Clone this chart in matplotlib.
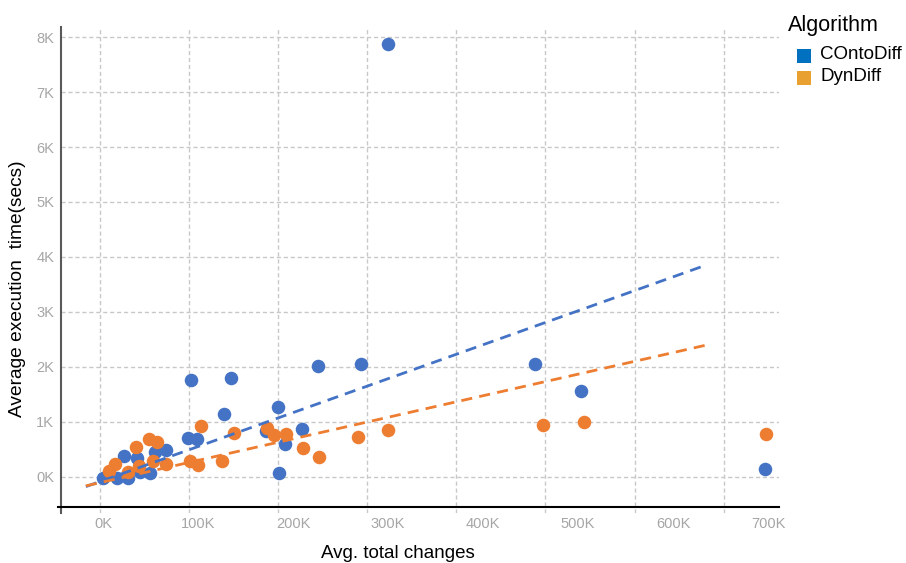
import matplotlib
matplotlib.use("Agg")
import matplotlib.pyplot as plt
from matplotlib.patches import Rectangle
import numpy as np

plt.rcParams['font.family'] = ['Liberation Sans', 'DejaVu Sans']

algorithms = ['COntoDiff', 'DynDiff']
legend_colors = ['#0070C0', '#E8A030']

# avg. total changes (thousands) and average execution time (secs)
conto_changes = [0.3, 14.4, 26.6, 22.4, 36.1, 38.9, 49.5, 54.7, 66.3, 89.2, 99.3, 92.3,
                 134.4, 127.7, 183.9, 171.6, 191.6, 209.8, 226.0, 271.9, 185.0, 300.0,
                 455.0, 502.8, 696.8]
conto_time = [-10, -20, -10, 387, 340, 85, 67, 460, 491, 709, 685, 1764,
              1805, 1140, 1278, 836, 595, 867, 2018, 2055, 67, 7873,
              2055, 1564, 140]

dyn_changes = [6.3, 12.6, 26.6, 34.4, 37.9, 48.4, 56.5, 52.3, 66.3, 91.6, 99.7, 102.8,
               125.6, 138.2, 172.3, 180.3, 192.3, 210.8, 227.4, 268.1, 300.3, 463.5,
               506.6, 697.6]
dyn_time = [109, 231, 96, 540, 205, 691, 642, 296, 231, 296, 218, 927,
            291, 800, 896, 764, 776, 522, 369, 733, 849, 940,
            1000, 787]

# dashed trend lines: slope (secs per K), intercept (secs)
conto_trend = (6.17, -64)
dyn_trend = (3.92, -91)
trend_span = [-18, 635]

x_ticks = [0, 100, 200, 300, 400, 500, 600, 700]
y_ticks = [0, 1000, 2000, 3000, 4000, 5000, 6000, 7000, 8000]

W, H = 906, 563
fig = plt.figure(figsize=(W/100, H/100), dpi=100)
ax = fig.add_axes([61/W, 1 - 513/H, (779 - 61)/W, (513 - 27)/H])

blue = '#4472C4'
orange = '#ED7D31'

ax.scatter(conto_changes, conto_time, s=95, color=blue, zorder=3, linewidths=0)
ax.scatter(dyn_changes, dyn_time, s=95, color=orange, zorder=4, linewidths=0)

tx = np.array(trend_span, dtype=float)
ax.plot(tx, conto_trend[0]*tx + conto_trend[1], color=blue, lw=2, ls=(0, (4, 2.6)), zorder=5)
ax.plot(tx, dyn_trend[0]*tx + dyn_trend[1], color=orange, lw=2, ls=(0, (4, 2.6)), zorder=5)

ax.set_xlim(-44.2, 711.6)
ax.set_ylim(-655, 8182)

# the gridlines sit a little off the x tick labels in the original
ax.set_xticks(x_ticks)
ax.set_xticklabels([f"{v}K" for v in x_ticks])
ax.set_xticks([-3.2 + 93.8*k for k in range(8)], minor=True)
ax.set_yticks(y_ticks)
ax.set_yticklabels([f"{v//1000}K" for v in y_ticks])

ax.grid(False)
ax.grid(which='minor', axis='x', color='#C8C8C8', ls=(0, (3, 2)), lw=1)
ax.grid(which='major', axis='y', color='#C8C8C8', ls=(0, (3, 2)), lw=1)
ax.set_axisbelow(True)

ax.tick_params(which='both', length=0)
ax.tick_params(axis='x', pad=3, labelsize=10.5, labelcolor='#A6A6A6')
ax.tick_params(axis='y', pad=5, labelsize=10.5, labelcolor='#A6A6A6')

for s in ['top', 'right', 'bottom']:
    ax.spines[s].set_visible(False)
ax.spines['left'].set_color('#595959')
ax.spines['left'].set_linewidth(1.5)

# black x axis line
ax.plot([-0.004, 1], [-545, -545], transform=ax.get_yaxis_transform(),
        color='black', lw=1.5, clip_on=False, zorder=6)

fig.text(398/W, 1 - 553/H, 'Avg. total changes', fontsize=13.5, ha='center', va='center')
fig.text(18/W, 1 - 289/H, 'Average execution  time(secs)', fontsize=13.8,
         rotation=90, ha='center', va='center')

# legend drawn by hand
fig.text(788/W, 1 - 31/H, 'Algorithm', fontsize=15.5, va='baseline')
for i, (name, col) in enumerate(zip(algorithms, legend_colors)):
    top = 49 + 22*i
    fig.add_artist(Rectangle((797/W, 1 - (top + 14)/H), 14/W, 14/H,
                             transform=fig.transFigure, color=col, lw=0))
    fig.text(820/W, 1 - (top + 10)/H, name, fontsize=13.5, va='baseline')

fig.savefig('out.png', dpi=100)
